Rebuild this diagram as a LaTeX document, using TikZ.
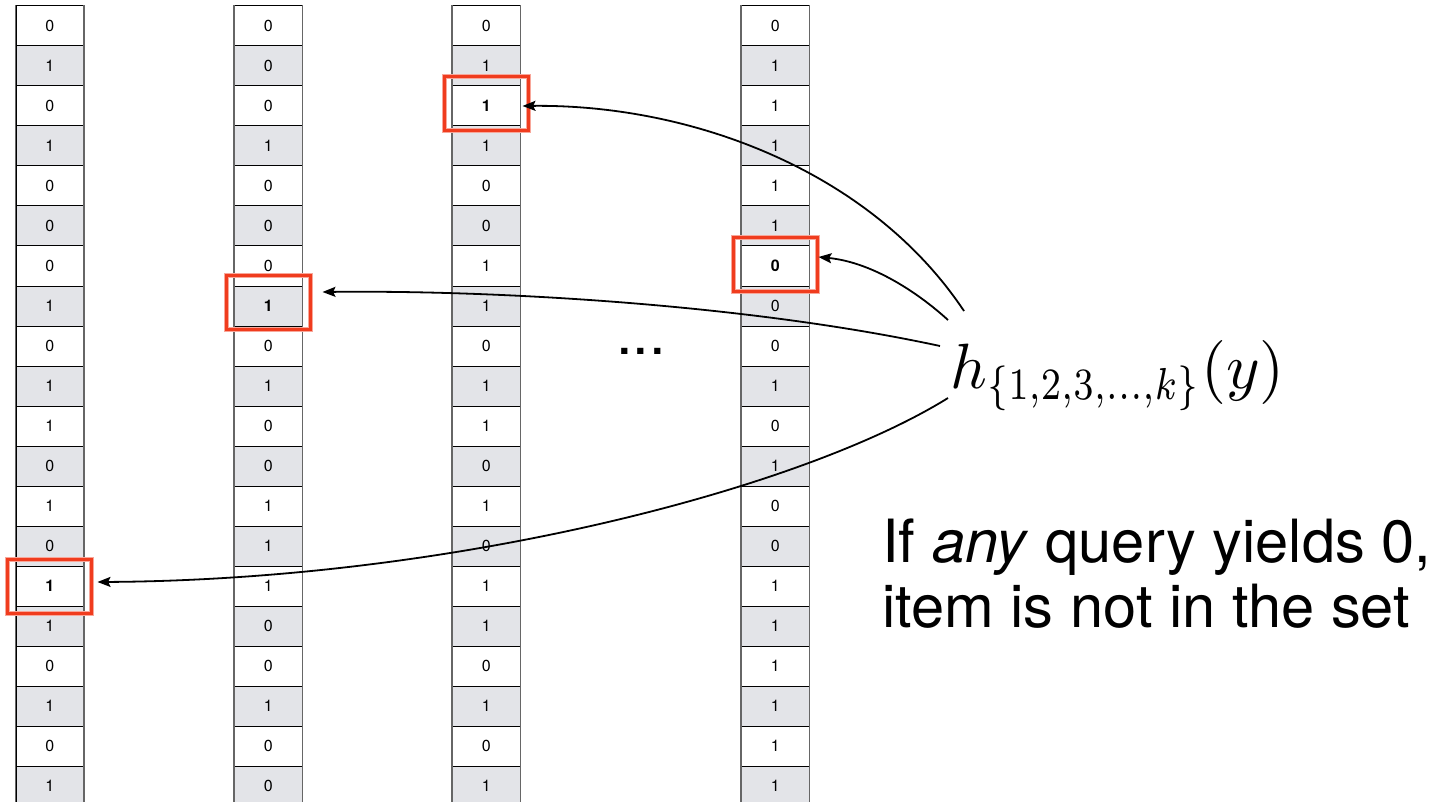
\documentclass[tikz,border=0pt]{standalone}
\usepackage{graphicx}
\usepackage{fontspec}
\setmainfont{TeX Gyre Heros}
\usetikzlibrary{arrows.meta}
\definecolor{cellgray}{RGB}{227,228,232}
\definecolor{markred}{RGB}{240,60,30}
\tikzset{
  bit/.style={draw=black, line width=0.5pt, minimum width=33.75pt, minimum height=20pt,
              inner sep=0pt, font=\fontsize{8}{9}\selectfont},
  coledge/.style={draw=black!60, line width=0.9pt},
  markbox/.style={draw=markred, line width=1.5pt, minimum width=42pt, minimum height=27pt,
                  inner sep=0pt},
  markhalo/.style={draw=markred!45, line width=2.4pt, minimum width=42pt, minimum height=27pt,
                   inner sep=0pt},
  query/.style={draw=black, line width=0.9pt, -{Stealth[length=6.5pt,width=5pt,inset=1.2pt]}},
  bigtext/.style={inner sep=0pt, font=\fontsize{29.8}{33}\selectfont},
}
% narrow subscript for the family of hash functions
\newcommand{\hashset}{\scalebox{0.8}[1]{$\scriptstyle\{1{,}2{,}3{,}...{,}k\}$}}
\begin{document}
\begin{tikzpicture}[x=0.5pt, y=-0.5pt]
  \useasboundingbox (0,0) rectangle (1450,802);
  \clip (0,0) rectangle (1450,802);

  % the four bit arrays: column / left edge / queried row / bits
  \foreach \c/\xl/\hl/\vals in {
      1/16/15/{0,1,0,1,0,0,0,1,0,1,1,0,1,0,1,1,0,1,0,1},
      2/234.5/8/{0,0,0,1,0,0,0,1,0,1,0,0,1,1,1,0,0,1,0,0},
      3/452.5/3/{0,1,1,1,0,0,1,1,0,1,1,0,1,0,1,1,0,1,0,1},
      4/741.5/7/{0,1,1,1,1,1,0,0,0,1,0,1,0,0,1,1,1,1,1,1}}
  {
    \foreach \v [count=\r] in \vals {
      \ifodd\r \def\fc{white}\else\def\fc{cellgray}\fi
      \ifnum\r=\hl \def\ft{\bfseries}\else\def\ft{}\fi
      \node[bit, fill=\fc] (c\c-\r) at (\xl+33.75, 40*\r-14) {\ft\v};
    }
    \draw[coledge] (c\c-1.north west) -- (c\c-20.south west);
    \draw[coledge] (c\c-1.north east) -- (c\c-20.south east);
  }

  % red marks around the queried cells
  \foreach \c/\r/\dy in {3/3/1.25, 4/7/0.75, 2/8/1.75, 1/15/-0.25} {
    \node[markhalo, yshift=\dy pt] at (c\c-\r) {};
    \node[markbox, yshift=\dy pt] (rb\c) at (c\c-\r) {};
  }

  % hash functions and their lookups
  \node[anchor=base west, inner sep=0pt] (hy) at (950,388)
    {\scalebox{3.2}{$h_{\hashset}(y)$}};

  \coordinate (s1) at (964,311);
  \coordinate (s2) at (948,320);
  \coordinate (s3) at (940,346);
  \coordinate (s4) at (948,398);

  \draw[query] (s1) .. controls (870,170) and (690,104) .. ([xshift=1pt]c3-3.east);
  \draw[query] (s2) .. controls (915,290) and (870,262) .. ([xshift=4.5pt,yshift=4.5pt]c4-7.east);
  \draw[query] (s3) .. controls (750,305) and (500,290) .. ([xshift=10pt,yshift=7pt]c2-8.east);
  \draw[query] (s4) .. controls (800,490) and (450,580) .. ([xshift=6.75pt,yshift=2pt]c1-15.east);

  \node[bigtext, anchor=base] (dots) at (641,354) {...};

  \node[bigtext, anchor=base west] (cap1) at (882,562) {If \textit{any} query yields 0,};
  \node[bigtext, anchor=base west] (cap2) at (882,627) {item is not in the set};
\end{tikzpicture}
\end{document}
